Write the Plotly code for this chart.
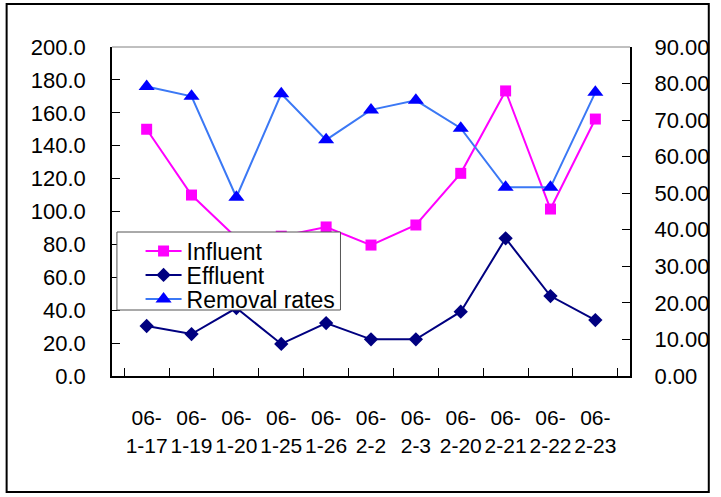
import plotly.graph_objects as go

# ---- data ----
categories = ["06-<br>1-17", "06-<br>1-19", "06-<br>1-20", "06-<br>1-25", "06-<br>1-26",
              "06-<br>2-2", "06-<br>2-3", "06-<br>2-20", "06-<br>2-21", "06-<br>2-22", "06-<br>2-23"]
influent = [150.0, 110.0, 84.0, 85.0, 90.6, 79.6, 91.8, 123.2, 173.3, 101.5, 156.2]
effluent = [30.4, 25.5, 41.3, 19.5, 32.2, 22.3, 22.3, 39.1, 83.7, 48.6, 34.0]
removal = [79.2, 76.5, 48.9, 77.2, 64.6, 72.8, 75.4, 67.8, 51.6, 51.6, 77.6]
left_ticks = [0, 20, 40, 60, 80, 100, 120, 140, 160, 180, 200]
right_ticks = [0, 10, 20, 30, 40, 50, 60, 70, 80, 90]

FONT = "Liberation Sans"
W, H = 721, 497
ML, MR, MT, MB = 112, 83, 47, 121
PW, PH = W - ML - MR, H - MT - MB


def px_x(x):
    return (x - ML) / PW


def px_y(y):
    return (H - MB - y) / PH


fig = go.Figure()
fig.add_trace(go.Scatter(
    x=categories, y=influent, name="Influent", mode="lines+markers",
    line=dict(color="#FF00FF", width=2),
    marker=dict(symbol="square", size=11, color="#FF00FF"),
    legend="legend"))
fig.add_trace(go.Scatter(
    x=categories, y=effluent, name="Effluent", mode="lines+markers",
    line=dict(color="#000080", width=2),
    marker=dict(symbol="diamond", size=11, color="#000080"),
    legend="legend2"))
fig.add_trace(go.Scatter(
    x=categories, y=removal, name="Removal rates", mode="lines+markers",
    yaxis="y2",
    line=dict(color="#3B78F5", width=2),
    marker=dict(symbol="triangle-up", size=14, color="#0000FF"),
    legend="legend3"))

leg_common = dict(bgcolor="rgba(0,0,0,0)", borderwidth=0, xref="paper", yref="paper",
                  xanchor="left", yanchor="middle", itemwidth=36,
                  font=dict(family=FONT, size=23, color="black"))

fig.update_layout(
    width=W, height=H,
    margin=dict(l=ML, r=MR, t=MT, b=MB),
    paper_bgcolor="white", plot_bgcolor="white",
    font=dict(family=FONT, size=22, color="black"),
    showlegend=True,
    legend=dict(x=px_x(141), y=px_y(251), **leg_common),
    legend2=dict(x=px_x(141), y=px_y(275), **leg_common),
    legend3=dict(x=px_x(141), y=px_y(299), **leg_common),
    xaxis=dict(
        type="category", showgrid=False, zeroline=False,
        showline=True, linecolor="black", linewidth=2,
        ticks="inside", ticklen=8, tickcolor="black", tickwidth=1,
        tickson="boundaries", ticklabelstandoff=22, tickangle=0,
        tickfont=dict(family=FONT, size=21, color="black"),
    ),
    yaxis=dict(
        range=[0, 200], tickvals=left_ticks, tickformat=".1f",
        showgrid=False, zeroline=False,
        showline=True, linecolor="black", linewidth=1.5,
        ticks="inside", ticklen=8, tickcolor="black", tickwidth=1,
        ticklabelstandoff=20,
        tickfont=dict(family=FONT, size=22, color="black"),
    ),
    yaxis2=dict(
        range=[0, 90], tickvals=right_ticks, tickformat=".2f",
        overlaying="y", side="right",
        showgrid=False, zeroline=False,
        showline=True, linecolor="black", linewidth=2,
        ticks="inside", ticklen=8, tickcolor="black", tickwidth=1,
        ticklabelstandoff=18,
        tickfont=dict(family=FONT, size=22, color="black"),
    ),
    shapes=[
        # top border of plot area
        dict(type="line", xref="paper", yref="paper", x0=0, x1=1, y0=1, y1=1,
             line=dict(color="#808080", width=1), layer="above"),
        # legend box
        dict(type="rect", xref="paper", yref="paper",
             x0=px_x(117), x1=px_x(344), y0=px_y(310), y1=px_y(232),
             fillcolor="white", line=dict(color="#555555", width=1), layer="above"),
        # outer chart border
        dict(type="rect", xref="paper", yref="paper",
             x0=px_x(5), x1=px_x(718), y0=px_y(492), y1=px_y(4),
             line=dict(color="black", width=2), layer="above"),
    ],
)

fig.write_html("out.html")
